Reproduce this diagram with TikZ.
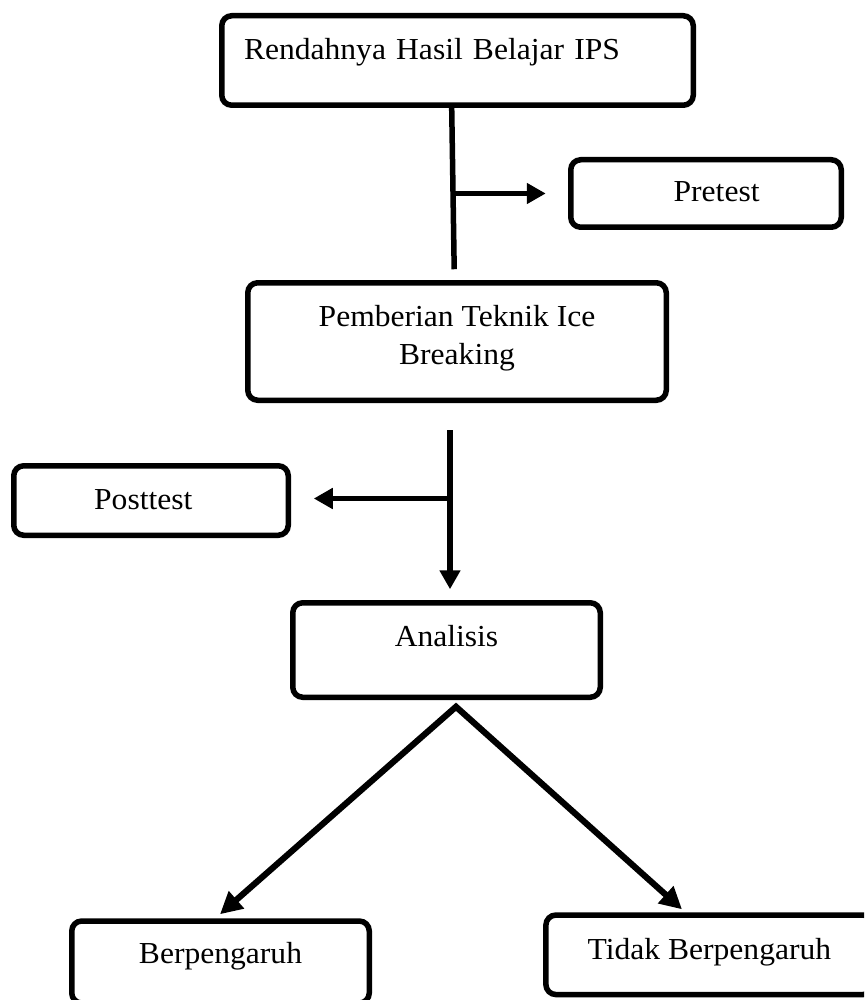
\documentclass[tikz,border=0pt]{standalone}
\usepackage{fontspec}
\setmainfont{Liberation Serif}[FakeStretch=1.035]
\usetikzlibrary{arrows.meta,calc}
\begin{document}
\begin{tikzpicture}[x=1pt,y=-1pt,
  box/.style={draw=black, line width=5.5pt, rounded corners=10pt, inner ysep=0pt, inner xsep=0pt, font=\fontsize{30.5}{38}\selectfont},
  conn/.style={draw=black, line width=5.5pt},
  arr/.style={conn, -{Triangle[length=19pt,width=20pt]}},
  darr/.style={draw=black, line width=6.2pt, {Triangle[length=22pt,width=22pt]}-{Triangle[length=22pt,width=22pt]}}
]
\useasboundingbox (0,0) rectangle (864,1000);
\clip (0,0) rectangle (864,1000);

\node[box, minimum width=471.5pt, minimum height=89.5pt, text width=427pt, align=left, inner xsep=22.25pt, text height=22pt, text depth=23pt] (b1) at (457.5,60.5) {Rendahnya Hasil Belajar IPS};
\node[box, minimum width=418.5pt, minimum height=117.5pt, align=center, text height=60pt, text depth=13.6pt] (b2) at (457,341.5) {Pemberian Teknik Ice\\Breaking};
\node[box, minimum width=270.5pt, minimum height=67.5pt, text height=20pt, text depth=3.6pt] (pre) at (706,193.5) {\hspace*{21.2pt}Pretest};
\node[box, minimum width=274.5pt, minimum height=69.5pt, text height=20pt, text depth=3pt] (post) at (151,500.5) {Posttest\hspace*{15.4pt}};
\node[box, minimum width=307.5pt, minimum height=94.5pt, text height=20pt, text depth=28pt] (an) at (446.5,650) {Analisis};
\node[box, minimum width=297.5pt, minimum height=82pt, text height=20pt, text depth=17.4pt] (bp) at (220.5,962) {Berpengaruh};
\node[box, minimum width=327pt, minimum height=79.5pt, text height=20pt, text depth=11.6pt] (td) at (709.4,954.8) {Tidak Berpengaruh};

% connectors
\coordinate (j1) at ($(b2.north)+(-2.8,-10.75)$);
\draw[conn] ($(b1.south)+(-5.8,0)$) -- (j1);
\draw[arr] (j1 |- pre.west) -- ($(pre.west)+(-22.25,0)$);

\coordinate (v1) at ($(b2.south)+(-7,27)$);
\coordinate (v2) at ($(an.north)+(3.5,-10.75)$);
\draw[arr] (v1) -- (v2);
\draw[arr] ($(v1 |- post.east)+(0,-2)$) -- ($(post.east)+(22.75,-2)$);

\coordinate (apex) at ($(an.south)+(9.5,6.75)$);
\draw[darr] ($(bp.north)+(-0.5,-4)$) -- (apex) -- ($(td.north)+(-27.4,-3)$);
\end{tikzpicture}
\end{document}
